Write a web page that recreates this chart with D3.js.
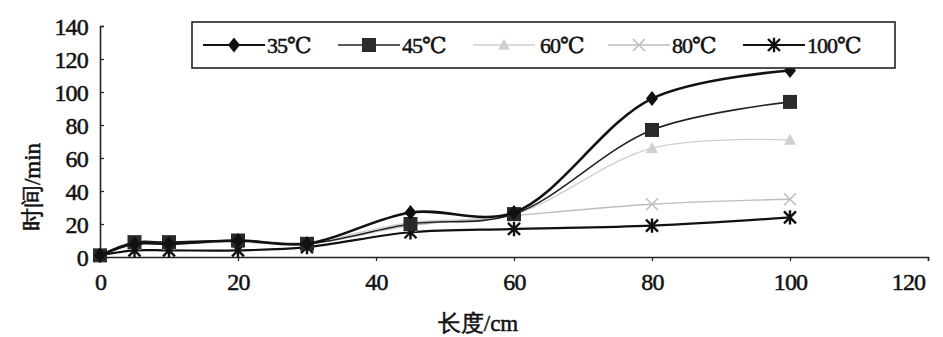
<!DOCTYPE html>
<html>
<head>
<meta charset="utf-8">
<script src="https://cdn.jsdelivr.net/npm/d3@7"></script>
<style>
  body { margin: 0; background: #fff; }
  text { font-family: "Liberation Serif", "DejaVu Serif", serif; fill: #111; stroke: #111; stroke-width: 0.5; }
</style>
</head>
<body>
<div id="chart"></div>
<script>
// dades llegides del gràfic
const longituds = [0, 5, 10, 20, 30, 45, 60, 80, 100];
const series = ["35℃", "45℃", "60℃", "80℃", "100℃"];
const temps35 = [1, 8, 8, 10, 8, 27, 27, 96, 113];
const temps45 = [1, 9, 9, 10, 8, 20, 26, 77, 94];
const temps60 = [1, 9, 9, 10, 9, 21, 26, 66, 71];
const temps80 = [1, 8, 8, 9, 8, 19, 25, 32, 35];
const temps100 = [1, 4, 4, 4, 6, 15, 17, 19, 24];
const ticksX = [0, 20, 40, 60, 80, 100, 120];
const ticksY = [0, 20, 40, 60, 80, 100, 120, 140];

const valors = [temps35, temps45, temps60, temps80, temps100];

// estils de cada sèrie
const estils = [
  {color: "#111", gruix: 2.6, marca: "diamant", farciment: "#111"},
  {color: "#222", gruix: 1.6, marca: "quadrat", farciment: "#2a2a2a"},
  {color: "#cfcfcf", gruix: 1.4, marca: "triangle", farciment: "#cfcfcf"},
  {color: "#bdbdbd", gruix: 1.4, marca: "creu", farciment: "none"},
  {color: "#111", gruix: 2.2, marca: "estrella", farciment: "#111"}
];

const ample = 943, alt = 337;
const svg = d3.select("#chart").append("svg")
  .attr("width", ample).attr("height", alt);

const x = d3.scaleLinear().domain([0, 120]).range([100, 928]);
const y = d3.scaleLinear().domain([0, 140]).range([257, 26]);

// eixos
const eixY = svg.append("g").attr("transform", "translate(100,0)")
  .call(d3.axisLeft(y).tickValues(ticksY).tickSize(-4).tickPadding(12));
const eixX = svg.append("g").attr("transform", "translate(0,257)")
  .call(d3.axisBottom(x).tickValues(ticksX).tickSize(4).tickPadding(12));
[eixY, eixX].forEach(e => {
  e.select(".domain").attr("stroke", "#222").attr("stroke-width", 1.6);
  e.selectAll(".tick line").attr("stroke", "#222").attr("stroke-width", 1.2);
  e.selectAll("text").attr("font-size", 24)
    .attr("letter-spacing", -0.8);
});
eixY.selectAll("text").attr("dy", "0.36em");
// l'etiqueta 120 queda desplaçada a l'esquerra com a l'original
eixX.selectAll(".tick text").filter(d => d === 120).attr("dx", -20);

// títols dels eixos
svg.append("text")
  .attr("transform", "translate(40,187) rotate(-90)")
  .attr("text-anchor", "middle")
  .attr("font-size", 23)
  .text("时间/min");
svg.append("text")
  .attr("x", 478).attr("y", 331)
  .attr("text-anchor", "middle")
  .attr("font-size", 23)
  .text("长度/cm");

// marques
function marca(tipus, s) {
  const h = s / 2;
  if (tipus === "diamant") return `M0,${-h * 1.25}L${h},0L0,${h * 1.25}L${-h},0Z`;
  if (tipus === "quadrat") return `M${-h},${-h}H${h}V${h}H${-h}Z`;
  if (tipus === "triangle") return `M0,${-h}L${h},${h * 0.8}L${-h},${h * 0.8}Z`;
  if (tipus === "creu") return `M${-h},${-h}L${h},${h}M${-h},${h}L${h},${-h}`;
  return `M${-h},${-h}L${h},${h}M${-h},${h}L${h},${-h}M0,${-h * 1.2}V${h * 1.2}`;
}
const mida = [12, 14, 12, 12, 12];

const linia = d3.line()
  .x(d => x(d[0]))
  .y(d => y(d[1]))
  .curve(d3.curveCatmullRom.alpha(0.5));

// dibuixem en ordre invers perquè 35℃ quedi a sobre
d3.range(valors.length).reverse().forEach(i => {
  const punts = longituds.map((l, j) => [l, valors[i][j]]);
  const e = estils[i];
  svg.append("path")
    .datum(punts)
    .attr("d", linia)
    .attr("fill", "none")
    .attr("stroke", e.color)
    .attr("stroke-width", e.gruix);
  svg.selectAll(".m" + i)
    .data(punts)
    .enter()
    .append("path")
    .attr("class", "m" + i)
    .attr("transform", d => `translate(${x(d[0])},${y(d[1])})`)
    .attr("d", marca(e.marca, mida[i]))
    .attr("fill", e.farciment)
    .attr("stroke", e.marca === "creu" || e.marca === "estrella" ? e.color : "none")
    .attr("stroke-width", e.marca === "estrella" ? 2.4 : 1.6);
});

// llegenda
const llegenda = svg.append("g");
llegenda.append("rect")
  .attr("x", 192).attr("y", 22).attr("width", 703).attr("height", 46)
  .attr("fill", "#fff").attr("stroke", "#222").attr("stroke-width", 1.6);
const inicis = [203, 338, 473, 608, 743];
series.forEach((nom, i) => {
  const e = estils[i];
  const g = llegenda.append("g").attr("transform", `translate(${inicis[i]},45)`);
  g.append("line").attr("x1", 0).attr("x2", 62)
    .attr("stroke", e.color).attr("stroke-width", Math.min(e.gruix, 2));
  g.append("path")
    .attr("transform", "translate(31,0)")
    .attr("d", marca(e.marca, mida[i]))
    .attr("fill", e.farciment)
    .attr("stroke", e.marca === "creu" || e.marca === "estrella" ? e.color : "none")
    .attr("stroke-width", e.marca === "estrella" ? 2.4 : 1.6);
  g.append("text")
    .attr("x", i === 2 ? 67 : 64).attr("y", 0).attr("dy", "0.35em")
    .attr("font-size", 22)
    .attr("letter-spacing", -1)
    .text(nom);
});
</script>
</body>
</html>
